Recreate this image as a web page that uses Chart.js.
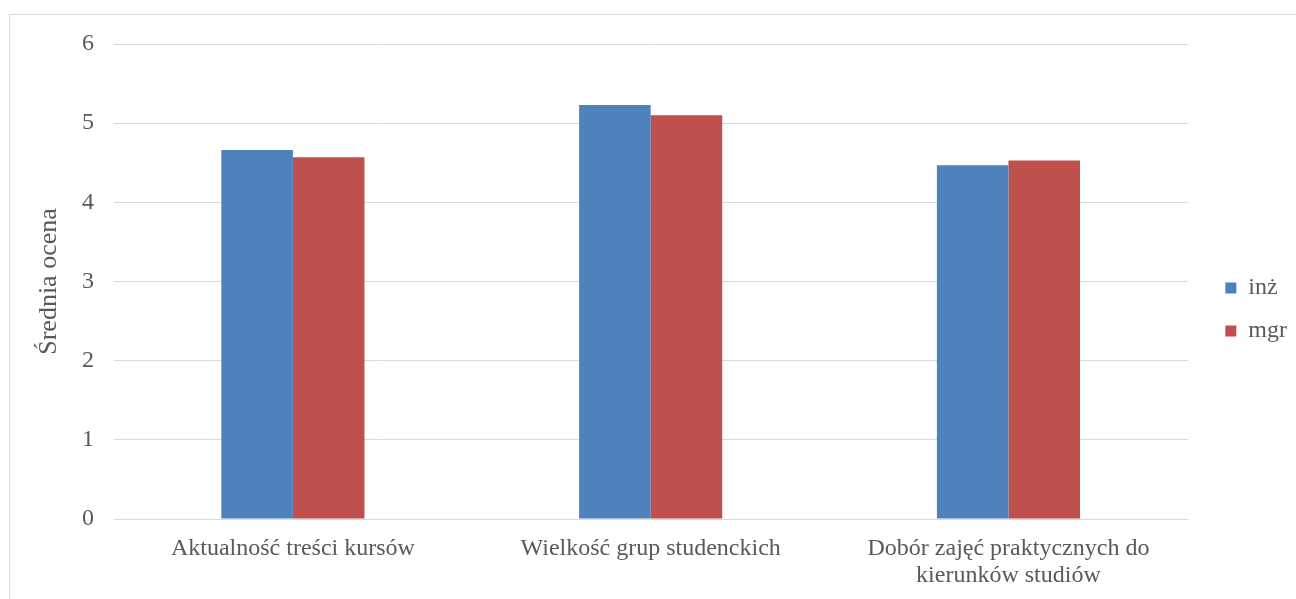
<!DOCTYPE html>
<html>
<head>
<meta charset="utf-8">
<script src="https://cdn.jsdelivr.net/npm/chart.js@4/dist/chart.umd.min.js"></script>
<style>
  html, body { margin: 0; padding: 0; background: #ffffff; overflow: hidden; }
  #frame { position: absolute; left: 9px; top: 14px; width: 1400px; height: 700px; border: 1px solid #d9d9d9; box-sizing: border-box; }
  #wrap { position: absolute; left: 0; top: 0; width: 1296px; height: 599px; }
  canvas { display: block; }
</style>
</head>
<body>
<div id="frame"></div>
<div id="wrap"><canvas id="c" width="1296" height="599"></canvas></div>
<script>
const categories = ['Aktualność treści kursów', 'Wielkość grup studenckich', ['Dobór zajęć praktycznych do', 'kierunków studiów']];
const seriesNames = ['inż', 'mgr'];
const inzValues = [4.66, 5.23, 4.47];
const mgrValues = [4.57, 5.10, 4.53];
const yTicks = [0, 1, 2, 3, 4, 5, 6];
const yTitle = 'Średnia ocena';

const FONT = 'Liberation Serif, Times New Roman, serif';
const TXT = '#595959';

const legendShift = {
  id: 'legendShift',
  afterLayout(chart) {
    const lg = chart.legend;
    if (!lg) return;
    lg.left += 19; lg.right += 19;
    lg.top -= 12; lg.bottom -= 12;
  }
};

new Chart(document.getElementById('c'), {
  type: 'bar',
  data: {
    labels: categories,
    datasets: [
      { label: seriesNames[0], data: inzValues, backgroundColor: '#4F81BD', barPercentage: 1, categoryPercentage: 0.4 },
      { label: seriesNames[1], data: mgrValues, backgroundColor: '#C0504D', barPercentage: 1, categoryPercentage: 0.4 }
    ]
  },
  plugins: [legendShift],
  options: {
    responsive: false,
    animation: false,
    devicePixelRatio: 1,
    layout: { padding: { top: 44, left: 30, right: 18, bottom: 0 } },
    plugins: {
      tooltip: { enabled: false },
      legend: {
        position: 'right',
        labels: {
          font: { family: FONT, size: 24 },
          color: TXT,
          boxWidth: 11,
          boxHeight: 11,
          padding: 19
        }
      }
    },
    scales: {
      x: {
        grid: { display: false, drawTicks: false },
        border: { display: true, color: '#d9d9d9', width: 1 },
        ticks: { font: { family: FONT, size: 24, lineHeight: 1.125 }, color: TXT, padding: 16, maxRotation: 0, autoSkip: false },
        afterFit: (s) => { s.height = 599 - 519; }
      },
      y: {
        min: 0, max: 6,
        afterBuildTicks: (s) => { s.ticks = yTicks.map(v => ({ value: v })); },
        grid: { color: '#d9d9d9', drawTicks: false, lineWidth: 1 },
        border: { display: false },
        ticks: { font: { family: FONT, size: 24 }, color: TXT, padding: 20 },
        title: { display: true, text: yTitle, font: { family: FONT, size: 26 }, color: TXT, padding: { top: 4, bottom: 4 } },
        afterFit: (s) => { s.width = 114 - 30; }
      }
    }
  }
});
</script>
</body>
</html>
